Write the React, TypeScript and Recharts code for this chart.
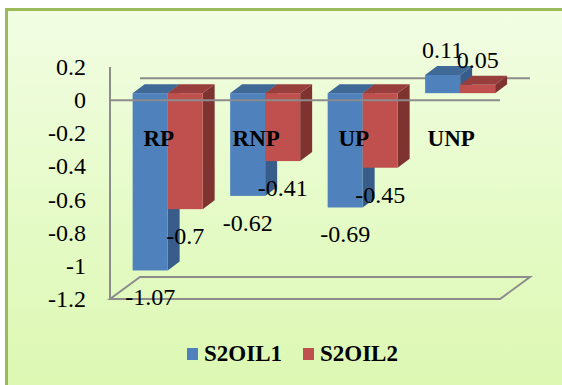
import { Bar, BarChart, LabelList, Legend, ReferenceLine, XAxis, YAxis } from "recharts";

const CATEGORIES = ["RP", "RNP", "UP", "UNP"];
const S2OIL1 = [-1.07, -0.62, -0.69, 0.11];
const S2OIL2 = [-0.7, -0.41, -0.45, 0.05];
const Y_TICKS = [0.2, 0, -0.2, -0.4, -0.6, -0.8, -1, -1.2];

const SERIES = [
  { key: "S2OIL1", front: "#4f81bd", top: "#3f6996", side: "#385d8a" },
  { key: "S2OIL2", front: "#c0504d", top: "#983e3c", side: "#7f3331" },
];

const data = CATEGORIES.map((cat, i) => ({ cat, S2OIL1: S2OIL1[i], S2OIL2: S2OIL2[i] }));

// Fake 3D: bars sit a little way into the box, the back wall sits WALL_DEPTH behind the front plane.
const BAR_SHIFT = { dx: 9, dy: -7 };
const BAR_DEPTH = { dx: 12, dy: -9 };
const WALL_DEPTH = { dx: 30, dy: -22 };
const CAT_LABEL_Y = 138;
const LINE = "#8c8c8c";
const FONT = "Liberation Serif";

function Bar3D(props: any) {
  const { x, y, width, height, fill, top, side } = props;
  const x0 = x + BAR_SHIFT.dx;
  const x1 = x0 + width;
  const y0 = Math.min(y, y + height) + BAR_SHIFT.dy;
  const y1 = Math.max(y, y + height) + BAR_SHIFT.dy;
  const { dx, dy } = BAR_DEPTH;
  return (
    <g>
      <polygon points={`${x1},${y0} ${x1 + dx},${y0 + dy} ${x1 + dx},${y1 + dy} ${x1},${y1}`} fill={side} />
      <polygon points={`${x0},${y0} ${x0 + dx},${y0 + dy} ${x1 + dx},${y0 + dy} ${x1},${y0}`} fill={top} />
      <rect x={x0} y={y0} width={width} height={y1 - y0} fill={fill} />
    </g>
  );
}

function ValueLabel(props: any) {
  const box = props.viewBox ?? props;
  const { x, y, width, height } = box;
  const value = Number(props.value);
  const end = (value < 0 ? Math.max(y, y + height) : Math.min(y, y + height)) + BAR_SHIFT.dy;
  return (
    <text
      x={x + BAR_SHIFT.dx + width / 2}
      y={end + (value < 0 ? 27 : -25)}
      textAnchor="middle"
      dominantBaseline="central"
      style={{ fontFamily: FONT, fontSize: 24 }}
      fill="#000"
    >
      {props.value}
    </text>
  );
}

function CategoryTick({ x, payload }: any) {
  return (
    <text
      x={x}
      y={CAT_LABEL_Y}
      textAnchor="middle"
      dominantBaseline="central"
      style={{ fontFamily: FONT, fontSize: 23, fontWeight: "bold" }}
      fill="#000"
    >
      {payload.value}
    </text>
  );
}

function ValueTick({ x, y, payload }: any) {
  return (
    <text x={x} y={y} textAnchor="end" dominantBaseline="central" style={{ fontFamily: FONT, fontSize: 24 }} fill="#000">
      {payload.value}
    </text>
  );
}

// Zero line on the back wall.
function BackLine({ x1, y1, x2, y2 }: any) {
  return (
    <line
      x1={x1 + WALL_DEPTH.dx}
      y1={y1 + WALL_DEPTH.dy}
      x2={x2 + WALL_DEPTH.dx}
      y2={y2 + WALL_DEPTH.dy}
      stroke={LINE}
      strokeWidth={2}
    />
  );
}

// Floor outline at the bottom of the value range.
function Floor({ x1, y1, x2, y2 }: any) {
  const { dx, dy } = WALL_DEPTH;
  return (
    <polygon
      points={`${x1},${y1} ${x2},${y2} ${x2 + dx},${y2 + dy} ${x1 + dx},${y1 + dy}`}
      fill="none"
      stroke={LINE}
      strokeWidth={2}
    />
  );
}

function LegendRow() {
  return (
    <div style={{ display: "flex", alignItems: "center", fontFamily: FONT, fontSize: 23, fontWeight: "bold" }}>
      {SERIES.map((s, i) => (
        <div key={s.key} style={{ display: "flex", alignItems: "center", marginLeft: i ? 21 : 0 }}>
          <span style={{ width: 11, height: 12, background: s.front, marginRight: 6 }} />
          <span style={{ lineHeight: "24px" }}>{s.key}</span>
        </div>
      ))}
    </div>
  );
}

export default function App() {
  return (
    <div
      style={{
        position: "fixed",
        left: 0,
        top: 0,
        width: 562,
        height: 385,
        overflow: "hidden",
        background: "#fff",
        fontFamily: FONT,
      }}
    >
      <div
        style={{
          position: "absolute",
          left: 5,
          top: 8,
          width: 600,
          height: 420,
          border: "3px solid #9bbb59",
          background: "linear-gradient(180deg, #f2fde3 0%, #e6fbc9 45%, #daf7ad 100%)",
        }}
      />
      <div style={{ position: "absolute", left: 0, top: 0 }}>
        <BarChart
          width={562}
          height={385}
          data={data}
          margin={{ top: 67, right: 62, left: 10, bottom: 56 }}
          barCategoryGap="14%"
          barGap={0}
        >
          <XAxis dataKey="cat" axisLine={false} tickLine={false} height={30} tick={<CategoryTick />} interval={0} />
          <YAxis
            width={100}
            domain={[-1.2, 0.2]}
            ticks={Y_TICKS}
            interval={0}
            tickSize={0}
            tickMargin={24}
            axisLine={{ stroke: LINE, strokeWidth: 2 }}
            tickLine={false}
            tick={<ValueTick />}
          />
          <ReferenceLine y={-1.2} shape={<Floor />} zIndex={-10} />
          <ReferenceLine y={0} shape={<BackLine />} zIndex={-10} />
          {SERIES.map((s) => (
            <Bar
              key={s.key}
              dataKey={s.key}
              fill={s.front}
              isAnimationActive={false}
              shape={(p: any) => <Bar3D {...p} fill={s.front} top={s.top} side={s.side} />}
            >
              <LabelList dataKey={s.key} content={<ValueLabel />} />
            </Bar>
          ))}
          <ReferenceLine y={0} stroke={LINE} strokeWidth={2} />
          <Legend
            layout="horizontal"
            verticalAlign="middle"
            align="center"
            wrapperStyle={{ top: 342, left: 187, width: "auto" }}
            content={() => <LegendRow />}
          />
        </BarChart>
      </div>
    </div>
  );
}
